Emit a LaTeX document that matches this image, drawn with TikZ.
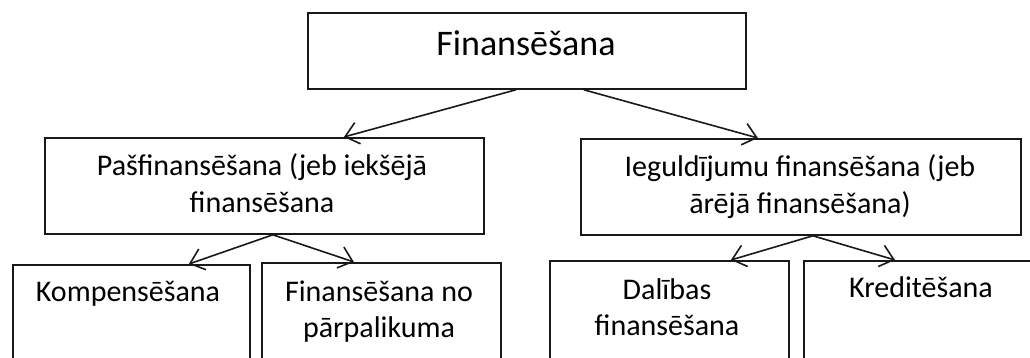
\documentclass[tikz,border=0pt]{standalone}
\usepackage{fontspec}
\setmainfont{Carlito}
\usetikzlibrary{arrows.meta}
\begin{document}
\begin{tikzpicture}[x=1pt,y=-1pt,
  box/.style={draw=black!90, line width=1.8pt, inner sep=0pt, anchor=north west},
  lbl/.style={font=\fontsize{30}{36}\selectfont, align=center, inner sep=0pt, anchor=base},
  ttl/.style={font=\fontsize{36}{44}\selectfont, inner sep=0pt, anchor=base},
  arr/.style={draw=black!90, line width=1.6pt, -{Straight Barb[length=13pt,width=22pt,line width=1.6pt]}}]
\useasboundingbox (0,0) rectangle (1030,358);
\clip (0,0) rectangle (1030,358);
% boxes
\node[box, minimum width=438pt, minimum height=76pt] (top) at (307,12) {};
\node[box, minimum width=439pt, minimum height=96pt] (ml) at (44,137) {};
\node[box, minimum width=440pt, minimum height=96pt] (mr) at (580,138) {};
\node[box, minimum width=237pt, minimum height=120pt] (k) at (12,264) {};
\node[box, minimum width=239pt, minimum height=120pt] (f) at (261,262) {};
\node[box, minimum width=239pt, minimum height=120pt] (d) at (549,260) {};
\node[box, minimum width=260pt, minimum height=120pt] (kr) at (803,260) {};
% texts (anchor=base is the last line's baseline)
\node[ttl] (ttop) at (526,56) {Finansēšana};
\node[lbl] (tml) at (262,212) {Pašfinansēšana (jeb iekšējā\\finansēšana};
\node[lbl] (tmr) at (800,213) {Ieguldījumu finansēšana (jeb\\ārējā finansēšana)};
\node[lbl] (tk) at (128,301) {Kompensēšana};
\node[lbl] (tf) at (379,337) {Finansēšana no\\pārpalikuma};
\node[lbl] (td) at (667,335) {Dalības\\finansēšana};
\node[lbl] (tkr) at (921,297) {Kreditēšana};
% connectors
\draw[arr] ([xshift=-11pt]top.south) -- ([xshift=79.5pt]ml.north);
\draw[arr] ([xshift=57pt]top.south) -- ([xshift=-43pt]mr.north);
\draw[arr] ([xshift=8.5pt]ml.south) -- ([xshift=57.5pt]k.north);
\draw[arr] ([xshift=8.5pt]ml.south) -- ([xshift=-27.5pt]f.north);
\draw[arr] ([xshift=12pt]mr.south) -- ([xshift=61.5pt]d.north);
\draw[arr] ([xshift=12pt]mr.south) -- ([xshift=92pt]kr.north west);
\end{tikzpicture}
\end{document}
